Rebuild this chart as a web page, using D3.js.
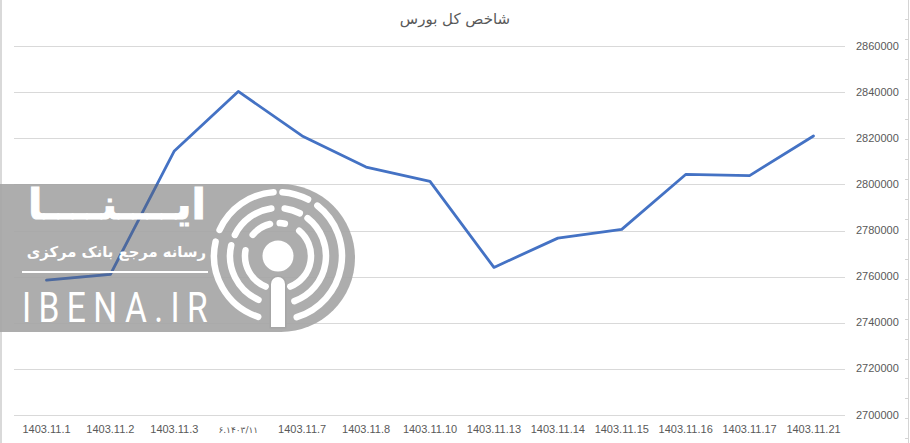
<!DOCTYPE html>
<html><head><meta charset="utf-8">
<script src="https://cdn.jsdelivr.net/npm/d3@7"></script>
<style>html,body{margin:0;padding:0;background:#fff}svg{display:block}</style>
</head><body>
<script>
const categories=["1403.11.1","1403.11.2","1403.11.3","۶.۱۴۰۳/۱۱","1403.11.7","1403.11.8","1403.11.10","1403.11.13","1403.11.14","1403.11.15","1403.11.16","1403.11.17","1403.11.21"];
const indexValues=[2758500,2761000,2814500,2840300,2821000,2807500,2801300,2764000,2776700,2780500,2804300,2803800,2821000];
const yTicks=[2700000,2720000,2740000,2760000,2780000,2800000,2820000,2840000,2860000];
const chartTitle="شاخص کل بورس";
const W=910,H=443;
const svg=d3.select("body").append("svg").attr("width",W).attr("height",H);
svg.append("rect").attr("width",W).attr("height",H).attr("fill","#fff");
const x=d3.scalePoint().domain(categories).range([46.5,813.5]);
const y=d3.scaleLinear().domain([2700000,2860000]).range([415,46]);
const font="'Liberation Sans',Arial,sans-serif";
// window frame
svg.append("rect").attr("x",0).attr("y",0).attr("width",2).attr("height",H).attr("fill","#d9d9d9");
svg.append("line").attr("x1",908.5).attr("x2",908.5).attr("y1",0).attr("y2",H).attr("stroke","#d4d4d4");
svg.append("g").selectAll("line").data(d3.range(0,23)).join("line")
 .attr("x1",905).attr("x2",908).attr("y1",d=>Math.round(19.4+d*19.95)+.5).attr("y2",d=>Math.round(19.4+d*19.95)+.5)
 .attr("stroke","#d4d4d4");
// grid
svg.append("g").selectAll("line").data(yTicks).join("line")
 .attr("x1",14).attr("x2",845).attr("y1",d=>Math.round(y(d))+.5).attr("y2",d=>Math.round(y(d))+.5)
 .attr("stroke","#d9d9d9");
// y labels
svg.append("g").selectAll("text").data(yTicks).join("text")
 .attr("x",856).attr("y",d=>y(d)+3.5).text(d=>d)
 .attr("font-family",font).attr("font-size",11).attr("fill","#595959");
// x labels
svg.append("g").selectAll("text").data(categories).join("text")
 .attr("x",d=>x(d)).attr("y",433).attr("text-anchor","middle").text(d=>d)
 .attr("direction","ltr")
 .attr("letter-spacing",(d,i)=>i===3?1.4:0)
 .attr("font-family",(d,i)=>i===3?"'DejaVu Sans'":font).attr("font-size",(d,i)=>i===3?9:11).attr("fill","#595959");
// title
svg.append("text").attr("x",455).attr("y",24).attr("text-anchor","middle").text(chartTitle)
 .attr("direction","rtl").attr("font-family","'DejaVu Sans'").attr("font-size",15).attr("fill","#595959");
// line
const line=d3.line().x((d,i)=>x(categories[i])).y(d=>y(d));
svg.append("path").datum(indexValues).attr("d",line).attr("fill","none")
 .attr("stroke","#4472c4").attr("stroke-width",2.8).attr("stroke-linejoin","round").attr("stroke-linecap","round");
// watermark
const shape="M0 184H281A74 74 0 0 1 281 332H0Z";
svg.append("clipPath").attr("id","wmclip").append("path").attr("d",shape);
const wm=svg.append("g");
wm.append("path").attr("d",shape).attr("fill","#a6a6a6").attr("opacity",.92);
wm.append("path").datum(indexValues).attr("d",line).attr("fill","none").attr("clip-path","url(#wmclip)")
 .attr("stroke","#4c699f").attr("stroke-width",2.8).attr("stroke-linejoin","round").attr("stroke-linecap","round");
const cx=278,cy=256,deg=Math.PI/180;
wm.append("circle").attr("cx",cx).attr("cy",cy).attr("r",15.5).attr("fill","#fff");
const segs=[
 // radius, start deg, end deg (0 = top, clockwise)
 [33,-50,-14],[33,3,12],[33,40,158],[33,-158,-80],
 [48,-64,-8],[48,8,27],[48,38,160],[48,-156,-77],
 [64,-66,-4],[64,4,28],[64,38,163],[64,-162,-77]
];
wm.append("g").selectAll("path").data(segs).join("path")
 .attr("transform",`translate(${cx},${cy})`)
 .attr("d",d=>{const a=d[1]*deg,b=d[2]*deg,r=d[0];
   return `M${r*Math.sin(a)} ${-r*Math.cos(a)}A${r} ${r} 0 ${Math.abs(d[2]-d[1])>180?1:0} 1 ${r*Math.sin(b)} ${-r*Math.cos(b)}`;})
 .attr("fill","none").attr("stroke","#fff").attr("stroke-width",6.5).attr("stroke-linecap","round");
wm.append("path").attr("d","M271 327V284a7 7 0 0 1 14 0V327Z").attr("fill","#fff").attr("stroke","#a6a6a6").attr("stroke-width",3).attr("paint-order","stroke");
wm.append("text").attr("x",206).attr("y",219).attr("text-anchor","start").attr("direction","rtl")
 .text("ایــــنــــا").attr("font-family","'DejaVu Sans'").attr("font-weight","bold").attr("font-size",42).attr("fill","#fff").attr("stroke","#fff").attr("stroke-width",1);
wm.append("text").attr("x",206).attr("y",257).attr("text-anchor","start").attr("direction","rtl")
 .text("رسانه مرجع بانک مرکزی").attr("font-family","'DejaVu Sans'").attr("font-weight","bold").attr("font-size",14.8).attr("fill","#fff");
wm.append("rect").attr("x",22).attr("y",271).attr("width",186).attr("height",2).attr("fill","#fff");
wm.append("text").attr("transform","translate(22,322) scale(.78,1)").attr("textLength",238).text("IBENA.IR")
 .attr("font-family","Roboto,'Liberation Sans'").attr("font-weight",400).attr("font-size",43).attr("fill","#fff");
</script>
</body></html>
